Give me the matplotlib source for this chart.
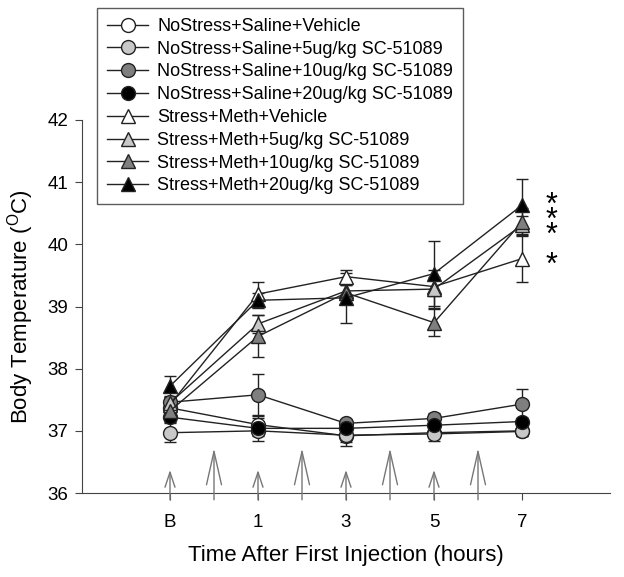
import numpy as np
import matplotlib
matplotlib.use('Agg')
import matplotlib.pyplot as plt

plt.rcParams['font.family'] = ['Liberation Sans', 'DejaVu Sans']

# 时间点 (B = 基线)
times = [-1, 1, 3, 5, 7]
tick_labels = ['B', '1', '3', '5', '7']

labels = ['NoStress+Saline+Vehicle',
          'NoStress+Saline+5ug/kg SC-51089',
          'NoStress+Saline+10ug/kg SC-51089',
          'NoStress+Saline+20ug/kg SC-51089',
          'Stress+Meth+Vehicle',
          'Stress+Meth+5ug/kg SC-51089',
          'Stress+Meth+10ug/kg SC-51089',
          'Stress+Meth+20ug/kg SC-51089']

# 体温均值
ns_vehicle = [37.37, 37.10, 36.92, 36.97, 37.00]
ns_5 = [36.97, 37.00, 36.93, 36.95, 36.99]
ns_10 = [37.46, 37.58, 37.12, 37.20, 37.43]
ns_20 = [37.22, 37.04, 37.04, 37.09, 37.15]
s_vehicle = [37.42, 39.20, 39.48, 39.32, 39.77]
s_5 = [37.45, 38.72, 39.25, 39.28, 40.31]
s_10 = [37.32, 38.52, 39.22, 38.74, 40.36]
s_20 = [37.72, 39.10, 39.14, 39.53, 40.63]

# 标准误
ns_vehicle_err = [0.08, 0.10, 0.10, 0.08, 0.08]
ns_5_err = [0.15, 0.08, 0.18, 0.12, 0.08]
ns_10_err = [0.10, 0.33, 0.06, 0.08, 0.25]
ns_20_err = [0.08, 0.20, 0.08, 0.06, 0.06]
s_vehicle_err = [0.10, 0.20, 0.10, 0.15, 0.38]
s_5_err = [0.10, 0.15, 0.10, 0.30, 0.15]
s_10_err = [0.12, 0.34, 0.12, 0.22, 0.22]
s_20_err = [0.17, 0.12, 0.40, 0.52, 0.42]

# 显著性星号 (7小时), 一个文本块: 三个一组 + 空行 + 一个
star_text = '*\n*\n*\n\n*'
star_center_y = 40.13

# 注射/测量箭头
injection_times = [0, 2, 4, 6]
measure_times = [-1, 1, 3, 5]

means = [ns_vehicle, ns_5, ns_10, ns_20, s_vehicle, s_5, s_10, s_20]
errs = [ns_vehicle_err, ns_5_err, ns_10_err, ns_20_err,
        s_vehicle_err, s_5_err, s_10_err, s_20_err]
fills = ['white', '#c8c8c8', '#7f7f7f', 'black'] * 2
markers = ['o'] * 4 + ['^'] * 4

fig = plt.figure(figsize=(6.24, 5.77), dpi=100)
ax = fig.add_axes([82/624, 1-493/577, (610-82)/624, (493-120)/577])

handles = []
for m, e, fc, mk, lab in zip(means, errs, fills, markers, labels):
    ax.errorbar(times, m, yerr=e, fmt='none', ecolor='#222222',
                elinewidth=1, capsize=4.5, capthick=1, zorder=2)
    h, = ax.plot(times, m, color='#222222', lw=1, marker=mk,
                 markersize=10 if mk == 'o' else 10.5, markerfacecolor=fc,
                 markeredgecolor='#222222', markeredgewidth=1, label=lab, zorder=3)
    handles.append(h)

# 箭头
for t in measure_times:
    ax.annotate('', xy=(t, 36.37), xytext=(t, 35.89), annotation_clip=False,
                arrowprops=dict(arrowstyle='->,head_length=0.9,head_width=0.3',
                                color='#777777', lw=1, mutation_scale=12,
                                shrinkA=0, shrinkB=0))
for t in injection_times:
    ax.annotate('', xy=(t, 36.72), xytext=(t, 35.89), annotation_clip=False,
                arrowprops=dict(arrowstyle='->,head_length=2.0,head_width=0.45',
                                color='#777777', lw=1, mutation_scale=12,
                                shrinkA=0, shrinkB=0))

ax.text(7.66, star_center_y, star_text, fontsize=22, ha='center', va='center',
        linespacing=0.345)

ax.set_xlim(-3, 9)
ax.set_ylim(36, 42)
ax.set_xticks(times)
ax.set_xticklabels(tick_labels)
ax.set_yticks(range(36, 43))
ax.tick_params(labelsize=13.5, direction='out', length=5, color='#444444')
ax.tick_params(axis='x', pad=10)
ax.tick_params(axis='y', pad=5)
for s in ['top', 'right']:
    ax.spines[s].set_visible(False)
for s in ['left', 'bottom']:
    ax.spines[s].set_color('#444444')
ax.set_xlabel('Time After First Injection (hours)', fontsize=16, labelpad=10)
ax.set_ylabel('Body Temperature ($^\\mathregular{O}$C)', fontsize=16, labelpad=8)

leg = fig.legend(handles=handles, loc='upper left', bbox_to_anchor=(97/624, 1-8/577),
                 fontsize=13, frameon=True, fancybox=False, edgecolor='#333333',
                 handlelength=2.3, labelspacing=0.32, borderpad=0.55, handletextpad=0.5,
                 borderaxespad=0)
leg.get_frame().set_linewidth(1)

plt.savefig('out.png', dpi=100)
